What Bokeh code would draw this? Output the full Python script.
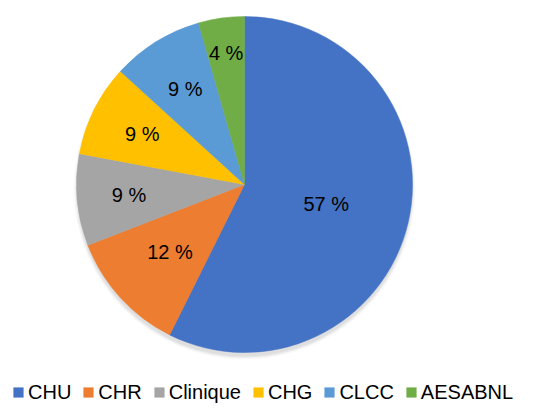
import math
from bokeh.plotting import figure
from bokeh.models import ColumnDataSource, Legend, LegendItem, Range1d
from bokeh.core.properties import value
from bokeh.embed import file_html
from bokeh.resources import INLINE

categories = ["CHU", "CHR", "Clinique", "CHG", "CLCC", "AESABNL"]
counts = [39, 8, 6, 6, 6, 3]
colors = ["#4472C4", "#ED7D31", "#A5A5A5", "#FFC000", "#5B9BD5", "#70AD47"]
label_radius = [0.50, 0.60, 0.69, 0.68, 0.67, 0.79]

W, H = 525, 404
CX, CY, R = 244, 220, 168

total = sum(counts)
starts, ends, lx, ly, texts = [], [], [], [], []
cum = 0.0
for c, f in zip(counts, label_radius):
    a0 = cum / total * 2 * math.pi
    cum += c
    a1 = cum / total * 2 * math.pi
    starts.append(math.pi / 2 - a0)
    ends.append(math.pi / 2 - a1)
    mid = (a0 + a1) / 2
    lx.append(CX + R * f * math.sin(mid))
    ly.append(CY + R * f * math.cos(mid))
    texts.append(f"{round(c / total * 100)} %")

src = ColumnDataSource(dict(cat=categories, start=starts, end=ends, color=colors))
lsrc = ColumnDataSource(dict(x=lx, y=ly, t=texts))

p = figure(width=W, height=H, output_backend="svg", toolbar_location=None,
           x_range=Range1d(0, W), y_range=Range1d(0, H), min_border=0)
p.axis.visible = False
p.grid.visible = False
p.outline_line_color = None
p.background_fill_color = "white"

# soft drop shadow
for k, a in enumerate([0.10, 0.08, 0.06, 0.04]):
    p.circle(x=[CX], y=[CY - 4], radius=R + k, fill_color="#808080",
             fill_alpha=a, line_color=None)

wr = p.wedge(x=CX, y=CY, radius=R, start_angle="start", end_angle="end",
             direction="clock", fill_color="color", line_color="color",
             line_width=0.5, source=src)

p.text(x="x", y="y", text="t", source=lsrc, text_align="center",
       text_baseline="middle", text_font=value("Liberation Sans"),
       text_font_size="20px", text_color="#000000")

items = [LegendItem(label=c, renderers=[wr], index=i) for i, c in enumerate(categories)]
legend = Legend(items=items, orientation="horizontal", location=(12, 0),
                label_text_font="Liberation Sans", label_text_font_size="20px",
                label_text_color="#000000", glyph_width=12, glyph_height=12,
                label_height=24, label_standoff=4, spacing=11, padding=0,
                margin=0, border_line_color=None, background_fill_alpha=0)
p.add_layout(legend, "center")

open("out.html", "w").write(file_html(p, INLINE))
